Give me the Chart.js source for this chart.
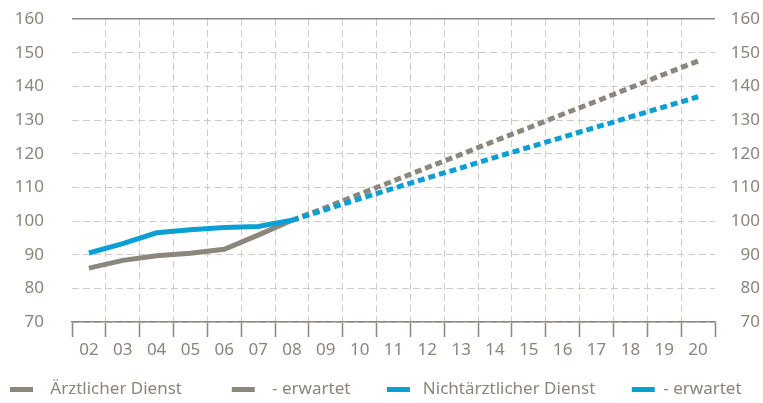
<!DOCTYPE html>
<html>
<head>
<meta charset="utf-8">
<script src="https://cdn.jsdelivr.net/npm/chart.js@4.4.1/dist/chart.umd.min.js"></script>
<style>
  html, body { margin: 0; padding: 0; background: #fff; }
  #wrap { width: 763px; height: 403px; }
</style>
</head>
<body>
<div id="wrap"><canvas id="chart" width="763" height="403"></canvas></div>
<script>
// years 2002 - 2020
var years = ['02', '03', '04', '05', '06', '07', '08', '09', '10', '11', '12', '13', '14', '15', '16', '17', '18', '19', '20'];
var yTicks = [70, 80, 90, 100, 110, 120, 130, 140, 150, 160];

var seriesNames = ['Ärztlicher Dienst', '- erwartet', 'Nichtärztlicher Dienst', '- erwartet'];

// actual values (up to 08)
var aerztlich = [86, 88.3, 89.7, 90.4, 91.6, 95.8, 100.2, null, null, null, null, null, null, null, null, null, null, null, null];
var nichtaerztlich = [90.5, 93.3, 96.5, 97.4, 98.1, 98.4, 100.2, null, null, null, null, null, null, null, null, null, null, null, null];

// expected values (from 08)
var aerztlichErw = [null, null, null, null, null, null, 100.2, 104, 108, 111.9, 115.9, 119.8, 123.8, 127.7, 131.7, 135.6, 139.6, 143.6, 147.5];
var nichtaerztlichErw = [null, null, null, null, null, null, 100.2, 103.4, 106.6, 109.7, 112.8, 115.8, 118.9, 121.9, 124.9, 127.9, 130.9, 133.9, 136.9];

var grey = '#8b877e';
var blue = '#0b9fd3';
var textGrey = '#8a857b';
var gridGrey = '#cfccc6';

// legend spacing (spaces before / after each label text)
var legendLead = [2, 2, 1, 0];
var legendTrail = [9, 6, 6, 0];

Chart.defaults.font.family = '"Noto Sans", sans-serif';
Chart.defaults.font.size = 17;
Chart.defaults.color = textGrey;

var lineStyle = {
    borderWidth: 5,
    pointRadius: 0,
    pointHoverRadius: 0,
    tension: 0,
    fill: false,
    spanGaps: false
};

var chart = new Chart(document.getElementById('chart'), {
    type: 'line',
    data: {
        labels: years,
        datasets: [
            Object.assign({ label: seriesNames[0], data: aerztlich, borderColor: grey, backgroundColor: grey, order: 2 }, lineStyle),
            Object.assign({ label: seriesNames[1], data: aerztlichErw, borderColor: grey, backgroundColor: grey, borderDash: [7, 4], order: 2 }, lineStyle),
            Object.assign({ label: seriesNames[2], data: nichtaerztlich, borderColor: blue, backgroundColor: blue, order: 1 }, lineStyle),
            Object.assign({ label: seriesNames[3], data: nichtaerztlichErw, borderColor: blue, backgroundColor: blue, borderDash: [7, 4], order: 1 }, lineStyle)
        ]
    },
    options: {
        responsive: false,
        animation: false,
        layout: {
            padding: { top: 19, right: 3, bottom: 0, left: 0 }
        },
        plugins: {
            tooltip: { enabled: false },
            legend: {
                position: 'bottom',
                align: 'start',
                maxHeight: 32,
                labels: {
                    usePointStyle: true,
                    pointStyle: 'line',
                    pointStyleWidth: 23,
                    padding: 10,
                    color: textGrey,
                    font: { size: 17 },
                    sort: function (a, b) { return a.datasetIndex - b.datasetIndex; },
                    generateLabels: function (chart) {
                        var items = Chart.defaults.plugins.legend.labels.generateLabels(chart);
                        items.forEach(function (item) {
                            var i = item.datasetIndex;
                            item.text = ' '.repeat(legendLead[i]) + item.text + ' '.repeat(legendTrail[i]);
                        });
                        return items;
                    }
                }
            }
        },
        scales: {
            x: {
                type: 'category',
                offset: true,
                grid: {
                    offset: true,
                    // no grid line on the left / right edge, only the tick mark
                    color: function (ctx) {
                        return (ctx.type !== 'tick' || ctx.index === 0) ? 'rgba(0,0,0,0)' : gridGrey;
                    },
                    tickColor: grey,
                    tickLength: 15,
                    tickWidth: 1.5,
                    lineWidth: 1
                },
                border: { display: true, color: grey, width: 1.5, dash: [7, 4] },
                ticks: { padding: 3, color: textGrey, maxRotation: 0, autoSkip: false },
                afterFit: function (scale) { scale.height = 49; }
            },
            y: {
                position: 'left',
                min: yTicks[0],
                max: yTicks[yTicks.length - 1],
                afterBuildTicks: function (scale) { scale.ticks = yTicks.map(function (v) { return { value: v }; }); },
                grid: {
                    drawTicks: true,
                    tickLength: 28,
                    tickColor: 'rgba(0,0,0,0)',
                    color: function (ctx) { return ctx.tick && ctx.tick.value === 160 ? grey : gridGrey; },
                    lineWidth: function (ctx) { return ctx.tick && ctx.tick.value === 160 ? 1.5 : 1; }
                },
                border: {
                    display: false,
                    dash: function (ctx) { return ctx.tick && ctx.tick.value === 160 ? [] : [7, 4]; }
                },
                ticks: { padding: 0, color: textGrey },
                afterFit: function (scale) { scale.width = 72; }
            },
            y2: {
                position: 'right',
                min: yTicks[0],
                max: yTicks[yTicks.length - 1],
                afterBuildTicks: function (scale) { scale.ticks = yTicks.map(function (v) { return { value: v }; }); },
                grid: { display: false, drawTicks: false },
                border: { display: false },
                ticks: { crossAlign: 'far', padding: 0, color: textGrey },
                afterFit: function (scale) { scale.width = 45; }
            }
        }
    }
});
</script>
</body>
</html>
